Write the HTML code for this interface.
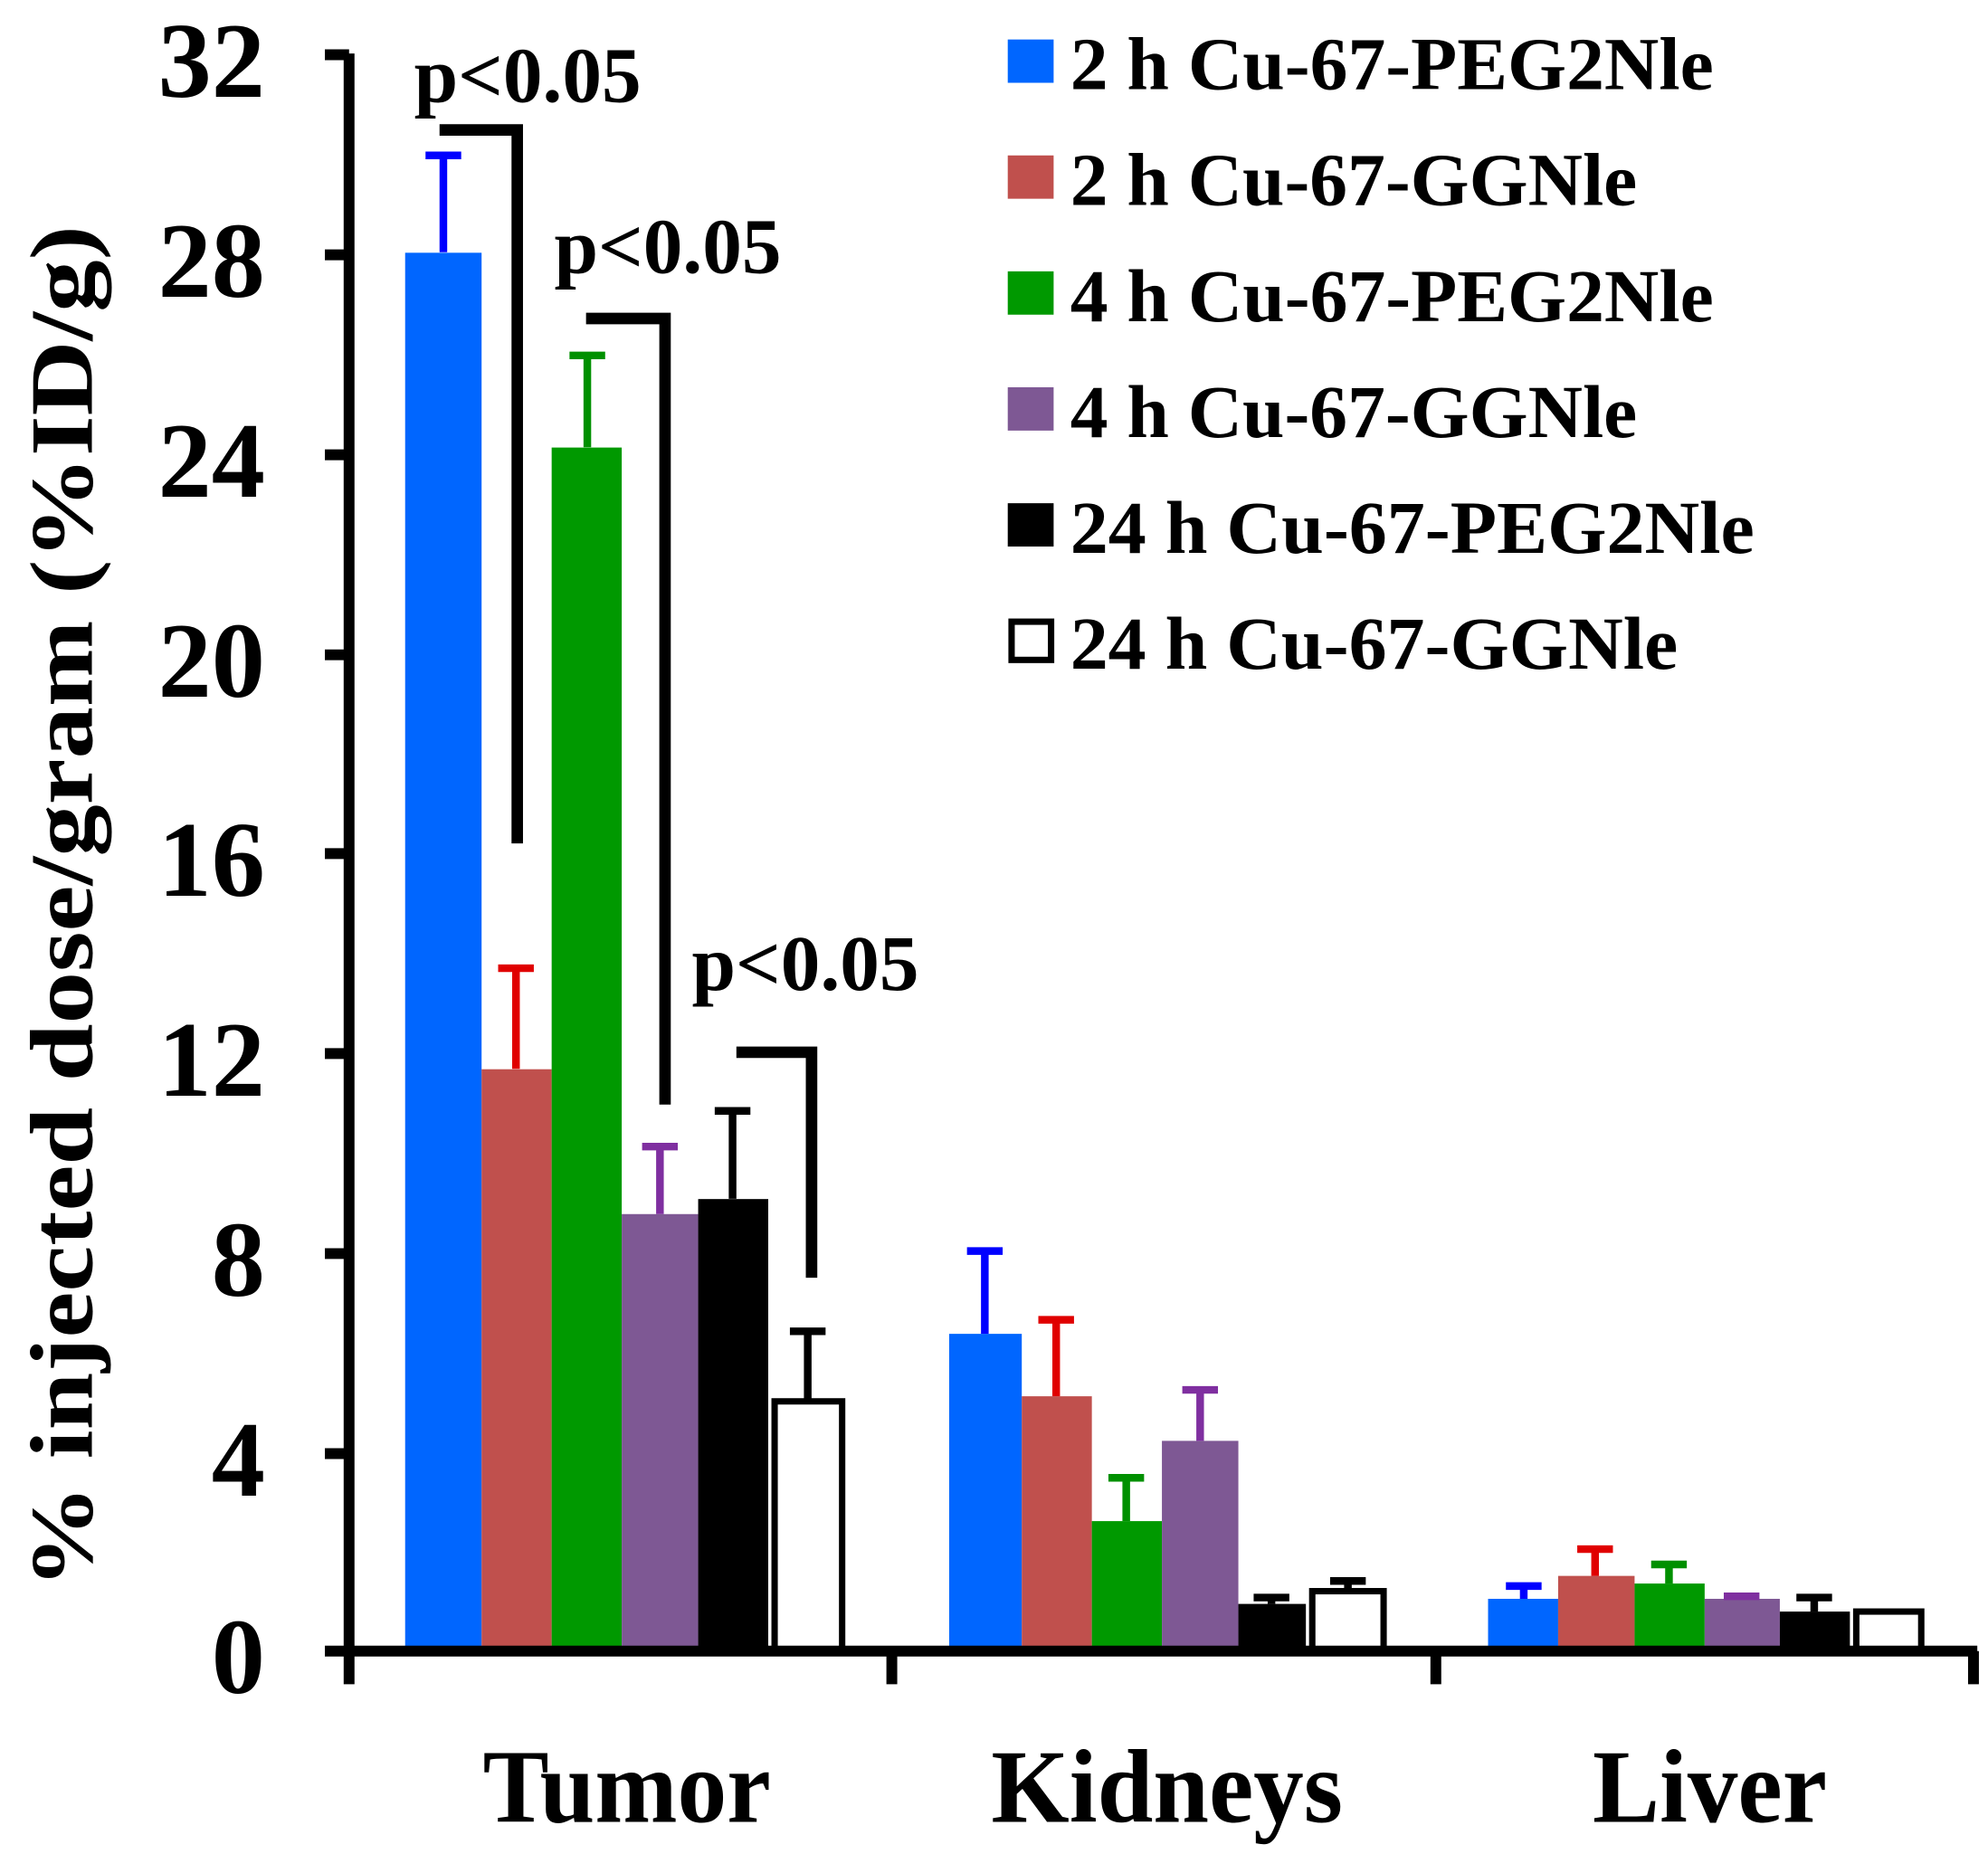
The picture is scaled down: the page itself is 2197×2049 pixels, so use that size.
<!DOCTYPE html>
<html><head><meta charset="utf-8"><style>html,body{margin:0;padding:0;background:#fff}svg{display:block}</style></head>
<body>
<svg width="2197" height="2049" viewBox="0 0 1560.4 1455.3" preserveAspectRatio="none" xmlns="http://www.w3.org/2000/svg" font-family="Liberation Serif, serif" font-weight="bold">
<rect width="1560.4" height="1455.3" fill="#fff"/>
<g>
<rect x="318" y="198.4" width="60" height="1097.6" fill="#0066ff"/>
<rect x="378" y="839.3" width="55" height="456.7" fill="#c0504d"/>
<rect x="433" y="351.3" width="55" height="944.7" fill="#009900"/>
<rect x="488" y="953" width="60" height="343" fill="#7e5894"/>
<rect x="548" y="941.2" width="55" height="354.8" fill="#000"/>
<rect x="608" y="1100" width="53" height="196" fill="#fff" stroke="#000" stroke-width="5"/>
<rect x="745" y="1047" width="57" height="249" fill="#0066ff"/>
<rect x="802" y="1096" width="55" height="200" fill="#c0504d"/>
<rect x="857" y="1194" width="55" height="102" fill="#009900"/>
<rect x="912" y="1131" width="60" height="165" fill="#7e5894"/>
<rect x="972" y="1259" width="53" height="37" fill="#000"/>
<rect x="1030" y="1249" width="56" height="47" fill="#fff" stroke="#000" stroke-width="5"/>
<rect x="1168" y="1255" width="55" height="41" fill="#0066ff"/>
<rect x="1223" y="1237" width="60" height="59" fill="#c0504d"/>
<rect x="1283" y="1243" width="55" height="53" fill="#009900"/>
<rect x="1338" y="1255" width="59" height="41" fill="#7e5894"/>
<rect x="1397" y="1265" width="55" height="31" fill="#000"/>
<rect x="1457" y="1265" width="51" height="31" fill="#fff" stroke="#000" stroke-width="5"/>
</g>
<g stroke-width="6" fill="none">
<path d="M348 198V122M334 122H362" stroke="#0000ff"/>
<path d="M405 839V760M391 760H419" stroke="#e00000"/>
<path d="M461 351V279M447 279H475" stroke="#009000"/>
<path d="M518 953V900M504 900H532" stroke="#7f2fa0"/>
<path d="M575 941V872M561 872H589" stroke="#000"/>
<path d="M634 1100V1045M620 1045H648" stroke="#000"/>
<path d="M773 1047V982M759 982H787" stroke="#0000ff"/>
<path d="M829 1096V1036M815 1036H843" stroke="#e00000"/>
<path d="M884 1194V1160M870 1160H898" stroke="#009000"/>
<path d="M942 1131V1091M928 1091H956" stroke="#7f2fa0"/>
<path d="M998 1259V1254M984 1254H1012" stroke="#000"/>
<path d="M1058 1249V1241M1044 1241H1072" stroke="#000"/>
<path d="M1196 1255V1245M1182 1245H1210" stroke="#0000ff"/>
<path d="M1252 1237V1216M1238 1216H1266" stroke="#e00000"/>
<path d="M1310 1243V1228M1296 1228H1324" stroke="#009000"/>
<path d="M1367 1255V1253M1353 1253H1381" stroke="#7f2fa0"/>
<path d="M1424 1265V1254M1410 1254H1438" stroke="#000"/>
</g>
<g stroke="#000" stroke-width="8.5" fill="none">
<path d="M274 42V1300"/>
<path d="M255 1296H1552"/>
<path d="M255 43H274M255 200H274M255 357H274M255 514H274M255 670H274M255 827H274M255 984H274M255 1141H274"/>
<path d="M274 1296V1322M700 1296V1322M1127 1296V1322M1549 1296V1322"/>
</g>
<g stroke="#000" stroke-width="9" fill="none">
<path d="M345 102H406V662"/>
<path d="M460 250H522V867"/>
<path d="M578 826H637V1003"/>
</g>
<g font-size="62">
<text x="325" y="80">p&lt;0.05</text>
<text x="435" y="214">p&lt;0.05</text>
<text x="543" y="777">p&lt;0.05</text>
</g>
<g font-size="84" text-anchor="end">
<text x="208" y="76">32</text>
<text x="208" y="233">28</text>
<text x="208" y="390">24</text>
<text x="208" y="547">20</text>
<text x="208" y="703">16</text>
<text x="208" y="860">12</text>
<text x="208" y="1017">8</text>
<text x="208" y="1174">4</text>
<text x="208" y="1329">0</text>
</g>
<text transform="translate(72,712) rotate(-90)" font-size="70" text-anchor="middle" textLength="1070" lengthAdjust="spacingAndGlyphs">% injected dose/gram (%ID/g)</text>
<g font-size="82" text-anchor="middle">
<text x="492" y="1430" textLength="226" lengthAdjust="spacingAndGlyphs">Tumor</text>
<text x="916" y="1430" textLength="276" lengthAdjust="spacingAndGlyphs">Kidneys</text>
<text x="1342" y="1430" textLength="184" lengthAdjust="spacingAndGlyphs">Liver</text>
</g>
<g font-size="59">
<rect x="791" y="31" width="36" height="34" fill="#0066ff"/>
<text x="840" y="70" textLength="505" lengthAdjust="spacingAndGlyphs">2 h Cu-67-PEG2Nle</text>
<rect x="791" y="122" width="36" height="34" fill="#c0504d"/>
<text x="840" y="161" textLength="445" lengthAdjust="spacingAndGlyphs">2 h Cu-67-GGNle</text>
<rect x="791" y="213" width="36" height="34" fill="#009900"/>
<text x="840" y="252" textLength="505" lengthAdjust="spacingAndGlyphs">4 h Cu-67-PEG2Nle</text>
<rect x="791" y="304" width="36" height="34" fill="#7e5894"/>
<text x="840" y="343" textLength="445" lengthAdjust="spacingAndGlyphs">4 h Cu-67-GGNle</text>
<rect x="791" y="395" width="36" height="34" fill="#000"/>
<text x="840" y="434" textLength="537" lengthAdjust="spacingAndGlyphs">24 h Cu-67-PEG2Nle</text>
<rect x="794" y="488" width="31" height="30" fill="#fff" stroke="#000" stroke-width="5"/>
<text x="840" y="525" textLength="477" lengthAdjust="spacingAndGlyphs">24 h Cu-67-GGNle</text>
</g>
</svg>
</body></html>
